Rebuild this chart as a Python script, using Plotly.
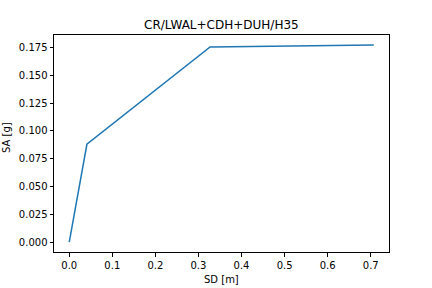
import plotly.graph_objects as go

sd = [0.0, 0.041, 0.327, 0.707]
sa = [0.0, 0.088, 0.1755, 0.1774]
x_ticks = [0.0, 0.1, 0.2, 0.3, 0.4, 0.5, 0.6, 0.7]
y_ticks = [0.0, 0.025, 0.05, 0.075, 0.1, 0.125, 0.15, 0.175]

W, H = 432, 288
L, R, T, B = 54, 43, 35, 36

fig = go.Figure()
fig.add_trace(go.Scatter(x=sd, y=sa, mode="lines",
                         line=dict(color="#1f77b4", width=1.5)))

font = dict(family="DejaVu Sans", size=10, color="black")
axis_common = dict(showgrid=False, zeroline=False, showline=True, linecolor="black",
                   linewidth=1, mirror=True, ticks="outside", ticklen=3.5,
                   tickwidth=0.8, tickcolor="black", tickfont=font, automargin=False)

fig.update_layout(
    width=W, height=H,
    margin=dict(l=L, r=R, t=T, b=B),
    paper_bgcolor="white", plot_bgcolor="white",
    showlegend=False,
    title=dict(text="CR/LWAL+CDH+DUH/H35", x=0.5125, xanchor="center",
               y=1 - 25/H, yanchor="middle",
               font=dict(family="DejaVu Sans", size=12, color="black")),
    xaxis=dict(range=[-0.0354, 0.7424], tickvals=x_ticks,
               ticktext=[f"{v:.1f}" for v in x_ticks], **axis_common),
    yaxis=dict(range=[-0.0089, 0.1863], tickvals=y_ticks,
               ticktext=[f"{v:.3f}" for v in y_ticks], **axis_common),
)

pw = W - L - R
ph = H - T - B
fig.add_annotation(text="SD [m]", xref="paper", yref="paper",
                   x=0.5, y=-(279 - (H - B)) / ph, xanchor="center", yanchor="middle",
                   showarrow=False, font=font)
fig.add_annotation(text="SA [g]", xref="paper", yref="paper",
                   x=-(L - 6) / pw, y=(H - B - 138) / ph, xanchor="center", yanchor="middle",
                   textangle=-90, showarrow=False, font=font)

fig.write_html("out.html")
